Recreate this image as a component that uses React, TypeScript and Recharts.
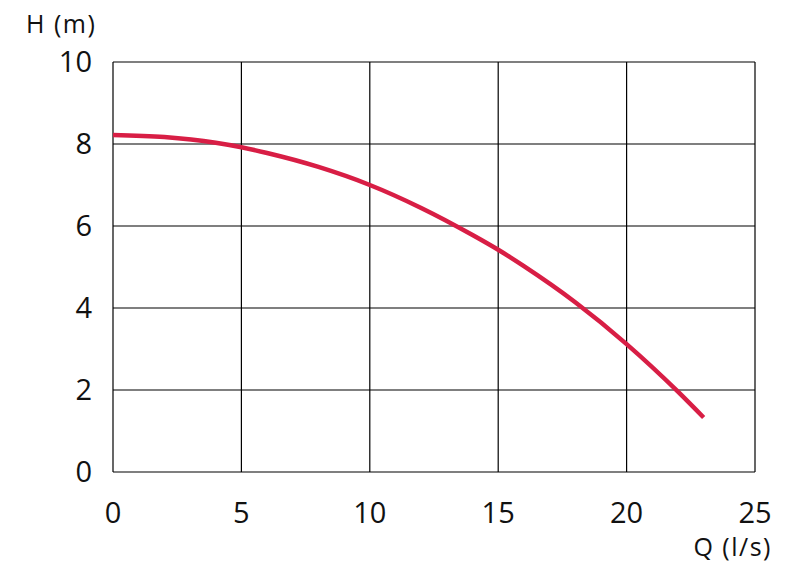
import { LineChart, Line, XAxis, YAxis, CartesianGrid } from "recharts";

const flow = [0, 2, 4, 5, 6, 8, 10, 12, 14, 15, 16, 18, 20, 22, 23];
const head = [8.22, 8.17, 8.03, 7.92, 7.78, 7.44, 7.0, 6.44, 5.78, 5.42, 5.02, 4.14, 3.12, 1.96, 1.33];
const xTicks = [0, 5, 10, 15, 20, 25];
const yTicks = [0, 2, 4, 6, 8, 10];

const data = flow.map((q, i) => ({ q, h: head[i] }));

const FONT = "'Open Sans', sans-serif";

const XTick = (props: any) => {
  const { x, y, payload } = props;
  return (
    <text x={x} y={y + 43} textAnchor="middle" fontFamily={FONT} fontSize={29} fill="#111">
      {payload.value}
    </text>
  );
};

const YTick = (props: any) => {
  const { x, y, payload } = props;
  return (
    <text x={x - 13} y={y + 10} textAnchor="end" fontFamily={FONT} fontSize={29} fill="#111">
      {payload.value}
    </text>
  );
};

export default function App() {
  return (
    <div style={{ position: "absolute", left: 0, top: 0, background: "#fff" }}>
      <LineChart
        width={794}
        height={566}
        data={data}
        margin={{ top: 62, right: 39, left: 0, bottom: 0 }}
      >
        <CartesianGrid stroke="#000" strokeWidth={1.2} />
        <XAxis
          dataKey="q"
          type="number"
          domain={[0, 25]}
          ticks={xTicks}
          height={94}
          axisLine={false}
          tickLine={false}
          tick={<XTick />}
          interval={0}
          label={{
            content: () => (
              <text x={772} y={556} textAnchor="end" fontFamily={FONT} fontSize={25} letterSpacing={1.5} fill="#111">
                Q (l/s)
              </text>
            ),
          }}
        />
        <YAxis
          type="number"
          domain={[0, 10]}
          ticks={yTicks}
          width={113}
          axisLine={false}
          tickLine={false}
          tick={<YTick />}
          interval={0}
          label={{
            content: () => (
              <text x={26} y={33} textAnchor="start" fontFamily={FONT} fontSize={25} letterSpacing={1.5} fill="#111">
                H (m)
              </text>
            ),
          }}
        />
        <Line
          dataKey="h"
          type="monotone"
          stroke="#d81e45"
          strokeWidth={4.5}
          dot={false}
          isAnimationActive={false}
        />
      </LineChart>
    </div>
  );
}
